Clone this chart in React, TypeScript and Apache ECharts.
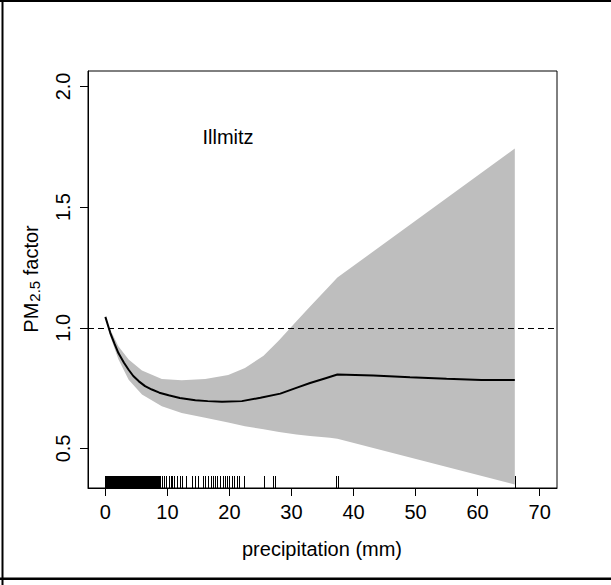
import React, { useEffect, useRef } from "react";
import * as echarts from "echarts";

// x positions (precipitation, mm) of the confidence band
const bandX = [0, 0.8, 2.1, 3.75, 5.9, 9.1, 12.3, 16.1, 19.8, 22.5, 25.5, 28, 30.8, 33, 36.2, 37.4, 66];
const bandUpper = [1.045, 0.992, 0.923, 0.868, 0.823, 0.788, 0.782, 0.788, 0.804, 0.833, 0.884, 0.948, 1.027, 1.088, 1.175, 1.208, 1.743];
const bandLower = [1.045, 0.964, 0.87, 0.785, 0.723, 0.675, 0.647, 0.627, 0.607, 0.592, 0.579, 0.568, 0.558, 0.552, 0.544, 0.54, 0.351];

// fitted curve
const lineX = [0, 0.8, 1.5, 2.1, 3, 3.75, 4.5, 5.4, 6.4, 7.5, 8.7, 10.2, 12, 14.5, 16.5, 18.8, 22, 25, 28.2, 31, 33, 35.5, 37.4, 43.2, 49.1, 55, 60.6, 66];
const lineY = [1.045, 0.978, 0.932, 0.895, 0.855, 0.826, 0.8, 0.778, 0.758, 0.744, 0.731, 0.72, 0.709, 0.7, 0.696, 0.693, 0.696, 0.71, 0.727, 0.753, 0.771, 0.791, 0.806, 0.802, 0.795, 0.789, 0.784, 0.784];

// observed precipitation values (rug)
const rugValues = [
  0, 0.1, 0.2, 0.3, 0.4, 0.5, 0.6, 0.7, 0.8, 0.9,
  1.0, 1.1, 1.2, 1.3, 1.4, 1.5, 1.6, 1.7, 1.8, 1.9,
  2.0, 2.1, 2.2, 2.3, 2.4, 2.5, 2.6, 2.7, 2.8, 2.9,
  3.0, 3.1, 3.2, 3.3, 3.4, 3.5, 3.6, 3.7, 3.8, 3.9,
  4.0, 4.1, 4.2, 4.3, 4.4, 4.5, 4.6, 4.7, 4.8, 4.9,
  5.0, 5.1, 5.2, 5.3, 5.4, 5.5, 5.6, 5.7, 5.8, 5.9,
  6.0, 6.1, 6.2, 6.3, 6.4, 6.5, 6.6, 6.7, 6.8, 6.9,
  7.0, 7.1, 7.2, 7.3, 7.4, 7.5, 7.6, 7.7, 7.8, 7.9,
  8.0, 8.1, 8.2, 8.3, 8.4, 8.5, 8.6, 8.7, 8.8,
  9.1, 9.4, 9.8, 10.2, 10.5, 10.7, 11.1, 11.5, 12.1, 12.3,
  13.0, 14.0, 14.5, 15.0, 15.7, 16.1, 16.6, 17.1, 17.4, 17.7,
  18.0, 18.5, 18.9, 19.3, 19.6, 19.9, 20.4, 20.8, 21.2, 21.6,
  22.3, 25.5, 27.0, 27.4, 37.2, 37.5, 66.1,
];

const xTicks = [0, 10, 20, 30, 40, 50, 60, 70];
const yTicks = [0.5, 1.0, 1.5, 2.0];
const X_MIN = -2.8;
const X_MAX = 72.8;
const Y_MIN = 0.336;
const Y_MAX = 2.064;

const FONT = "'Liberation Sans', Arial, sans-serif";

export default function App() {
  const ref = useRef<HTMLDivElement>(null);
  useEffect(() => {
    if (!ref.current) return;
    const chart = echarts.init(ref.current, null, { renderer: "svg" });
    const option: any = {
      animation: false,
      backgroundColor: "#fff",
      grid: { left: 88, top: 71, right: 54, bottom: 97, show: true, borderColor: "#000", borderWidth: 1 },
      xAxis: {
        type: "value",
        min: X_MIN,
        max: X_MAX,
        axisLine: { show: true, onZero: false, lineStyle: { color: "#000", width: 1 } },
        splitLine: { show: false },
        axisTick: { show: true, length: 8, lineStyle: { color: "#000", width: 1 }, customValues: xTicks },
        axisLabel: { customValues: xTicks, color: "#000", fontSize: 20, fontFamily: FONT, margin: 14 },
      },
      yAxis: {
        type: "value",
        min: Y_MIN,
        max: Y_MAX,
        axisLine: { show: true, onZero: false, lineStyle: { color: "#000", width: 1 } },
        splitLine: { show: false },
        axisTick: { show: true, length: 8, lineStyle: { color: "#000", width: 1 }, customValues: yTicks },
        axisLabel: {
          customValues: yTicks,
          color: "#000",
          fontSize: 20,
          fontFamily: FONT,
          rotate: 90,
          margin: 15,
          formatter: (v: number) => v.toFixed(1),
        },
      },
      graphic: [
        { type: "line", shape: { x1: 0, y1: 1, x2: 611, y2: 1 }, style: { stroke: "#000", lineWidth: 2 } },
        { type: "line", shape: { x1: 2.5, y1: 0, x2: 2.5, y2: 585 }, style: { stroke: "#000", lineWidth: 2 } },
        { type: "line", shape: { x1: 0, y1: 578.7, x2: 611, y2: 578.7 }, style: { stroke: "#000", lineWidth: 2.5 } },
        {
          type: "text",
          x: 228,
          y: 137,
          style: { text: "Illmitz", fill: "#000", fontSize: 20, fontFamily: FONT, align: "center", verticalAlign: "middle" },
        },
        {
          type: "text",
          x: 322,
          y: 549,
          style: { text: "precipitation (mm)", fill: "#000", fontSize: 20, fontFamily: FONT, align: "center", verticalAlign: "middle" },
        },
        {
          type: "text",
          x: 31,
          y: 279,
          rotation: Math.PI / 2,
          style: {
            text: "{a|PM}{s|2.5}{a| factor}",
            fill: "#000",
            align: "center",
            verticalAlign: "middle",
            rich: {
              a: { fontSize: 20, fontFamily: FONT, fill: "#000" },
              s: { fontSize: 15, fontFamily: FONT, fill: "#000", padding: [7, 0, 0, 1] },
            },
          },
        },
      ],
      series: [
        {
          type: "custom",
          z: 1,
          clip: true,
          data: [[0, 1]],
          renderItem: (params: any, api: any) => {
            const pts: number[][] = [];
            for (let i = 0; i < bandX.length; i++) pts.push(api.coord([bandX[i], bandUpper[i]]));
            for (let i = bandX.length - 1; i >= 0; i--) pts.push(api.coord([bandX[i], bandLower[i]]));
            return { type: "polygon", shape: { points: pts }, style: { fill: "#bebebe", stroke: "none" } };
          },
        },
        {
          type: "line",
          z: 3,
          data: lineX.map((x, i) => [x, lineY[i]]),
          showSymbol: false,
          smooth: false,
          lineStyle: { color: "#000", width: 2 },
          markLine: {
            silent: true,
            symbol: "none",
            label: { show: false },
            lineStyle: { color: "#000", width: 1, type: [6, 4] },
            data: [{ yAxis: 1 }],
          },
        },
        {
          type: "custom",
          z: 4,
          data: rugValues.map((v) => [v]),
          renderItem: (params: any, api: any) => {
            const p = api.coord([api.value(0), Y_MIN]);
            const x = Math.round(p[0]) + 0.5;
            return {
              type: "line",
              shape: { x1: x, y1: p[1], x2: x, y2: p[1] - 12 },
              style: { stroke: "#000", lineWidth: 1 },
            };
          },
        },
      ],
    };
    chart.setOption(option);
    return () => chart.dispose();
  }, []);
  return <div ref={ref} style={{ position: "fixed", left: 0, top: 0, width: 611, height: 585 }} />;
}
